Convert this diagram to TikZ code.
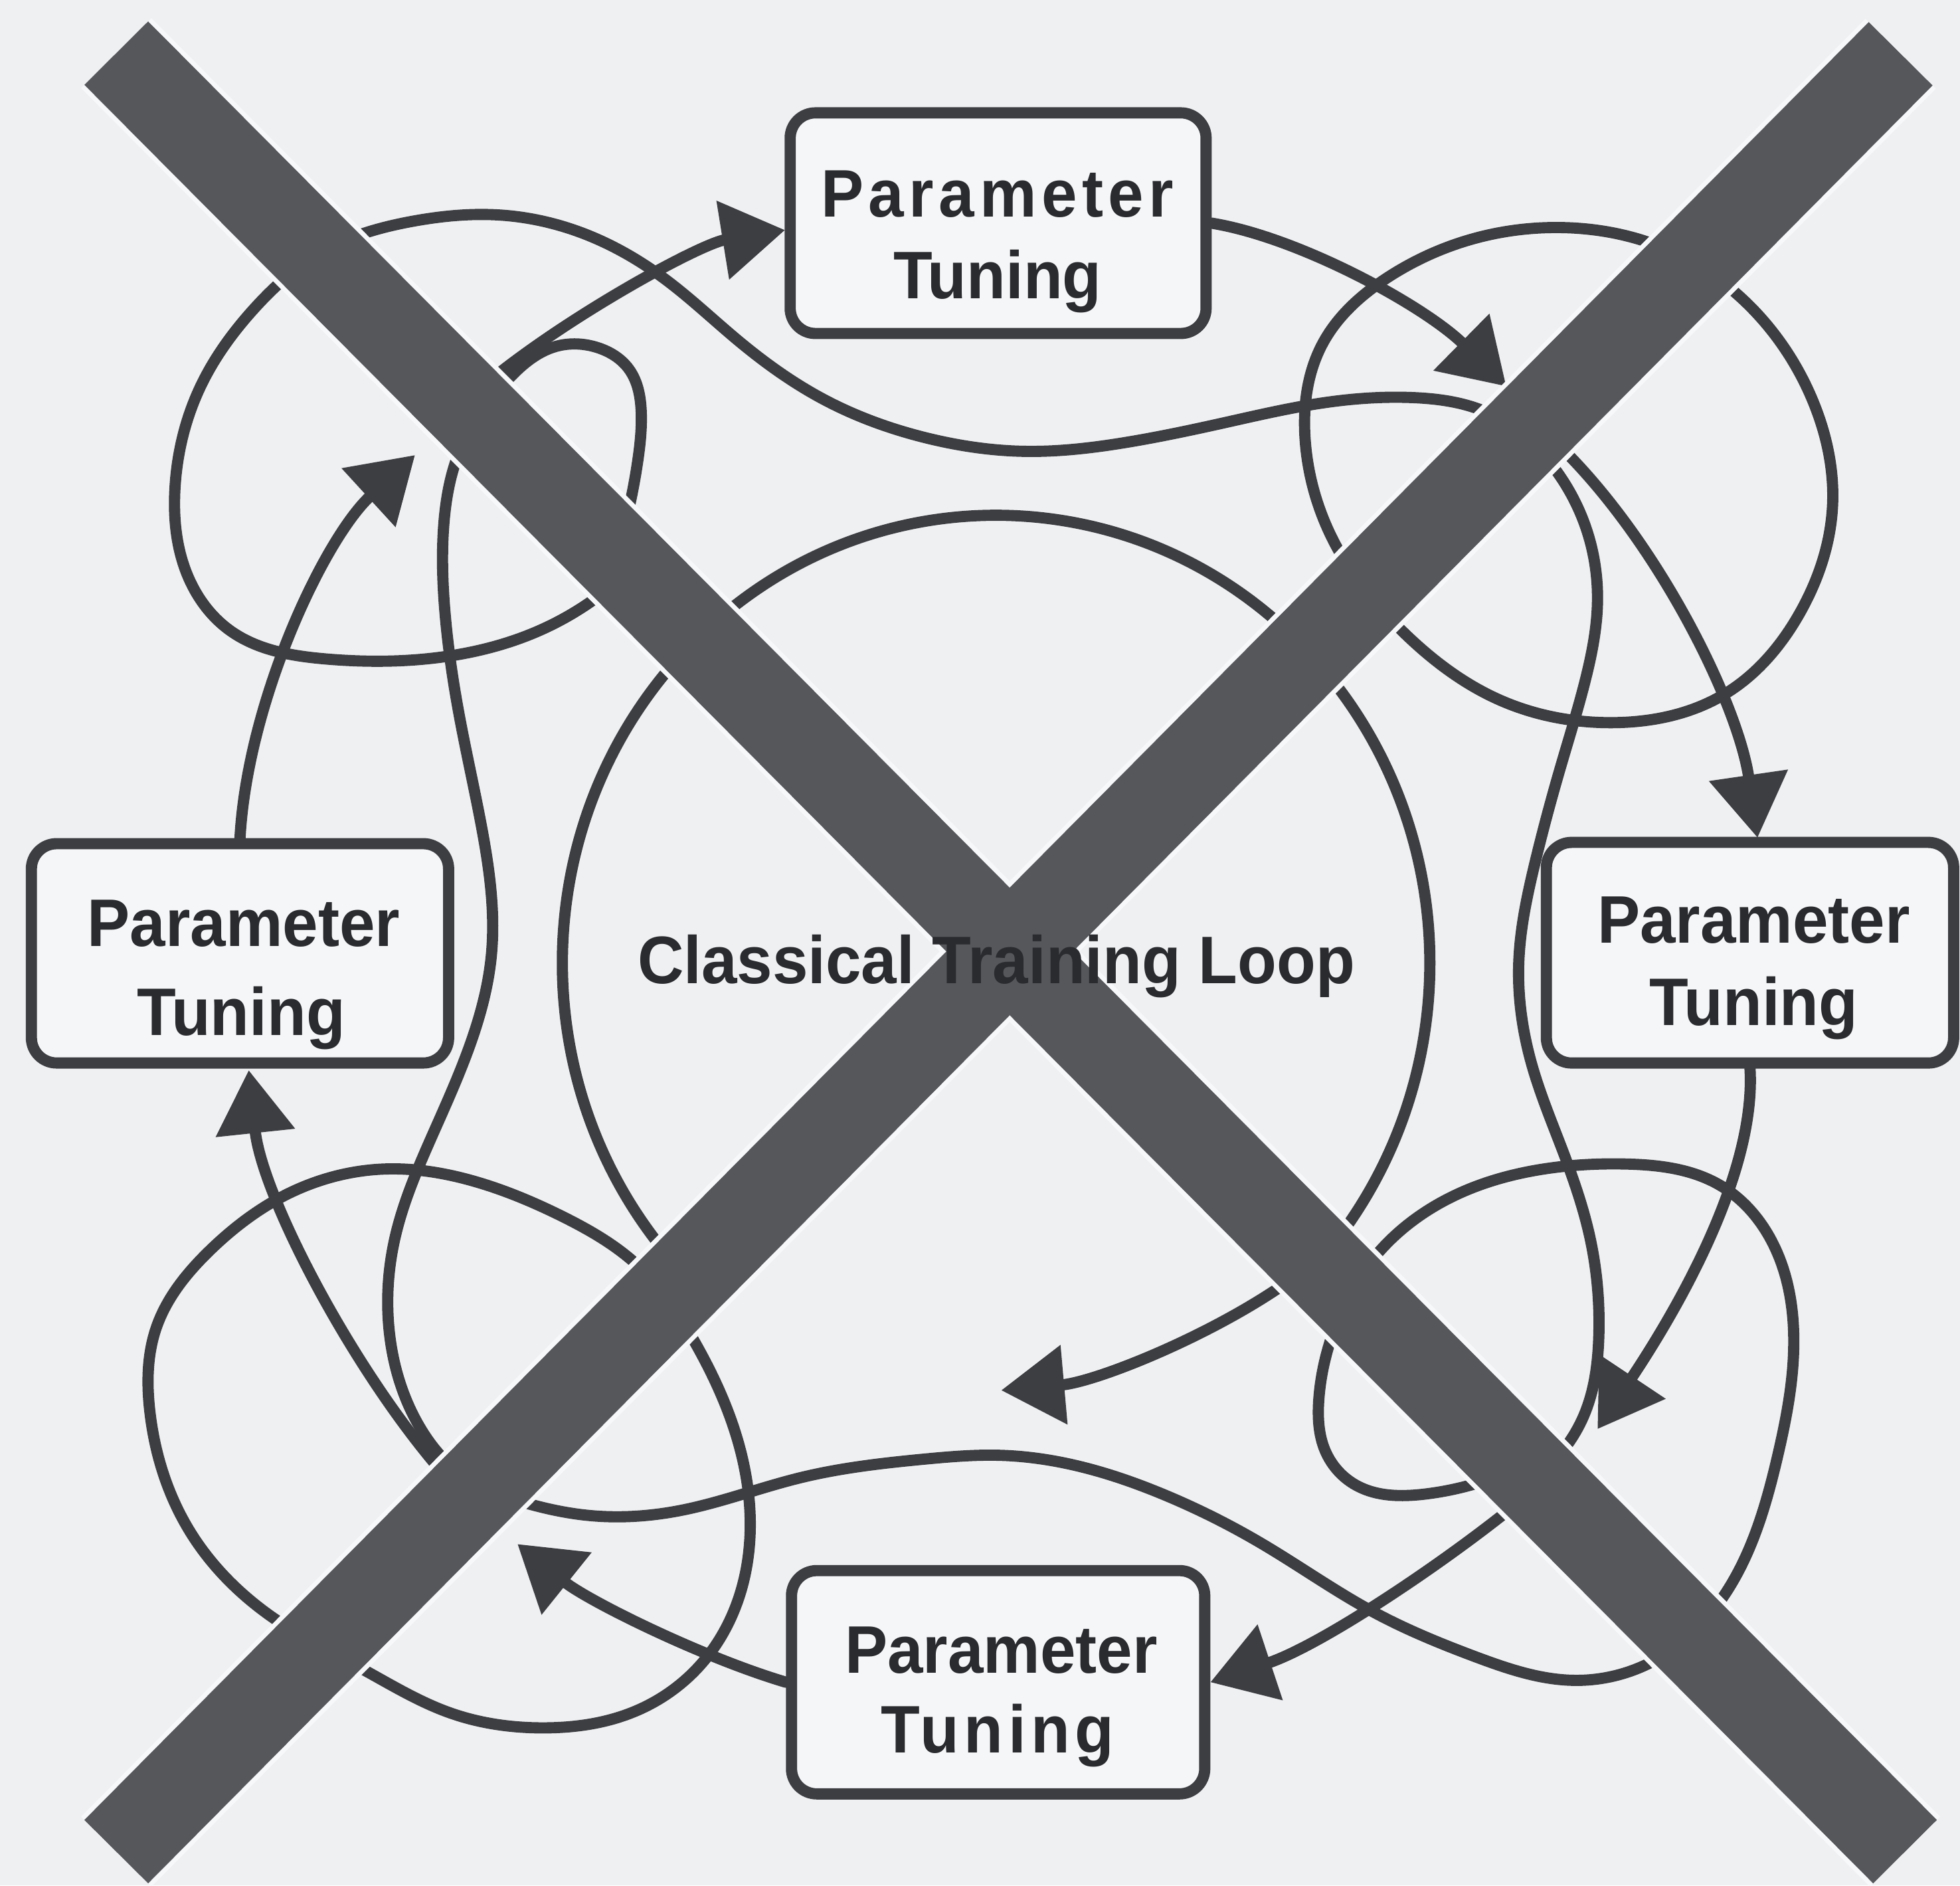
\documentclass[tikz,border=0pt]{standalone}
\usepackage{fontspec}
\usetikzlibrary{arrows.meta,hobby}
\setmainfont{Liberation Sans}
\newfontfamily\labfont{Liberation Sans}[FakeStretch=0.95]
\newfontfamily\labspaced{Liberation Sans}[FakeStretch=0.95,LetterSpace=7.5]
\definecolor{bgc}{HTML}{EFF0F2}
\definecolor{haloc}{HTML}{F7F8FA}
\definecolor{boxc}{HTML}{F5F6F8}
\definecolor{linec}{HTML}{3D3E42}
\definecolor{xc}{HTML}{56575B}
\definecolor{textc}{HTML}{2A2B2E}
\begin{document}
\begin{tikzpicture}[x=0.01882cm,y=-0.01882cm,
  curve/.style={line width=4.8pt, draw=linec, line cap=round, line join=round},
  arr/.style={-{Triangle[length=27pt,width=33pt]}},
  pbox/.style={draw=linec, line width=4.8pt, fill=boxc, rounded corners=0.38cm, inner sep=0pt},
  xbar/.style={line width=38.5pt, draw=xc},
  xhalo/.style={line width=42.5pt, draw=haloc},
  lab/.style={text=textc, font=\labfont\fontsize{28.8pt}{34pt}\selectfont\bfseries, inner sep=0pt, anchor=base},
  labsp/.style={text=textc, font=\labspaced\fontsize{28.8pt}{34pt}\selectfont\bfseries, inner sep=0pt, anchor=base}]
\useasboundingbox (0,0) rectangle (1568,1508);
\fill[bgc] (0,0) rectangle (1568,1508);

% box positions (drawn later on top)
\path (798.5,178.5) node[minimum width=6.26cm, minimum height=3.32cm, inner sep=0pt, outer sep=2.4pt] (top) {};
\path (192,762.5) node[minimum width=6.28cm, minimum height=3.30cm, inner sep=0pt, outer sep=2.4pt] (left) {};
\path (1400,762) node[minimum width=6.13cm, minimum height=3.32cm, inner sep=0pt, outer sep=2.4pt] (right) {};
\path (798.5,1345.5) node[minimum width=6.22cm, minimum height=3.36cm, inner sep=0pt, outer sep=2.4pt] (bottom) {};

% arrow tips
\coordinate (tA1) at (332,364);
\coordinate (tA2) at (628,184);
\coordinate (tA3) at (1205,309);
\coordinate (tA4) at (1406,670);
\coordinate (tA5) at (1278,1143);
\coordinate (tA7) at (414,1235);
\coordinate (tA8) at (199,856);
\coordinate (tA9) at (801,1112);

% tangled curves
\draw[curve] plot[hobby] coordinates {(490,468) (430,505) (350,526) (260,527) (185,505) (148,455) (140,390) (160,310) (205,245) (260,200) (330,177) (400,172) (470,188) (533,224) (590,272) (660,320) (740,350) (820,361) (900,354) (980,338) (1060,322) (1130,318) (1190,330) (1240,370) (1268,420) (1278,480) (1268,545) (1248,615) (1228,690) (1215,770) (1225,850) (1250,920) (1272,990) (1279,1070) (1268,1130) (1230,1180)};

\draw[curve] plot[closed hobby] coordinates {(1248,182) (1330,198) (1400,245) (1450,320) (1466,405) (1440,490) (1380,555) (1290,578) (1200,560) (1120,503) (1068,435) (1044,350) (1058,275) (1110,222) (1175,192)};

\draw[curve] plot[closed hobby] coordinates {(308,935) (380,945) (450,973) (510,1012) (555,1072) (588,1145) (600,1210) (592,1275) (560,1332) (505,1370) (436,1382) (360,1370) (290,1335) (220,1295) (152,1225) (120,1130) (125,1062) (168,1000) (230,955)};

\draw[curve] plot[hobby] coordinates {(1200,1180) (1140,1195) (1085,1188) (1060,1160) (1055,1120) (1065,1070) (1100,1005) (1160,958) (1235,935) (1300,931) (1376,948) (1420,998) (1435,1070) (1422,1165) (1380,1275) (1320,1330) (1260,1344) (1180,1325) (1100,1290) (1010,1235) (930,1195) (860,1172) (800,1164) (740,1167) (640,1182) (545,1208) (470,1212) (420,1202) (370,1180) (335,1140) (312,1070) (316,990) (345,910) (378,830) (393,765) (385,660) (367,570) (356,490) (355,420) (368,360) (405,305) (445,277) (478,278) (503,295) (513,330) (510,370) (500,420)};

% central loop
\draw[curve] (535,1005) arc[start angle=139, end angle=398, x radius=347, y radius=358];
\draw[curve,arr] (1050,1010) .. controls (990,1060) and (880,1105) .. (tA9);

% ring arrows
\draw[curve,arr] (left.north) .. controls (198,560) and (260,430) .. (tA1);
\draw[curve,arr] (385,310) .. controls (450,255) and (560,195) .. (tA2);
\draw[curve,arr] (top.east) .. controls (1040,190) and (1140,245) .. (tA3);
\draw[curve,arr] (1235,345) .. controls (1320,420) and (1390,560) .. (tA4);
\draw[curve,arr] (right.south) .. controls (1405,940) and (1340,1050) .. (tA5);
\draw[curve,arr] (1225,1193) .. controls (1170,1240) and (1060,1315) .. (bottom.east);
\draw[curve,arr] (bottom.west) .. controls (560,1325) and (470,1280) .. (tA7);
\draw[curve,arr] (365,1190) .. controls (290,1110) and (210,960) .. (tA8);

% boxes on top
\node[pbox, minimum width=6.26cm, minimum height=3.32cm] (topbox) at (top) {};
\node[pbox, minimum width=6.28cm, minimum height=3.30cm] (leftbox) at (left) {};
\node[pbox, minimum width=6.13cm, minimum height=3.32cm] (rightbox) at (right) {};
\node[pbox, minimum width=6.22cm, minimum height=3.36cm] (bottombox) at (bottom) {};

% the big X
\coordinate (xa1) at (93,42.5);
\coordinate (xa2) at (1524,1481);
\coordinate (xb1) at (1520.5,43);
\coordinate (xb2) at (93,1481);
\draw[xhalo] (xa1) -- (xa2);
\draw[xhalo] (xb1) -- (xb2);
\draw[xbar] (xa1) -- (xa2);
\draw[xbar] (xb1) -- (xb2);

% labels
\node[labsp] (t1) at (798,173.6) {Parameter};
\node[lab] (t2) at (798,239) {Tuning};
\node[lab] (l1) at (195,757) {Parameter};
\node[lab] (l2) at (193,828) {Tuning};
\node[lab] (r1) at (1403,754.5) {Parameter};
\node[lab] (r2) at (1403,820) {Tuning};
\node[lab] (b1) at (801,1338) {Parameter};
\node[labsp] (b2) at (798,1402) {Tuning};
\node[lab] (ctl) at (797,786.4) {Classical Training Loop};
\end{tikzpicture}
\end{document}
